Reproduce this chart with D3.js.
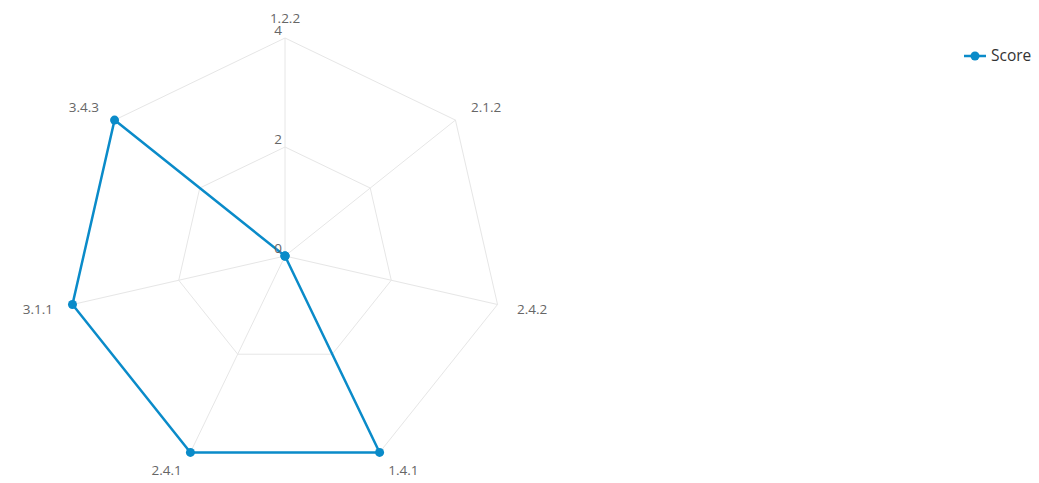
<!DOCTYPE html>
<html>
<head>
<meta charset="utf-8">
<script src="https://cdn.jsdelivr.net/npm/d3@7"></script>
<style>
  body { margin: 0; background: #fff; }
  text { font-family: 'Open Sans', sans-serif; }
</style>
</head>
<body>
<div id="chart-area"></div>
<script>
// radar chart - Score per criterion
var categories = ['1.2.2', '2.1.2', '2.4.2', '1.4.1', '2.4.1', '3.1.1', '3.4.3'];
var scores = [0, 0, 0, 4, 4, 4, 4];
var ticks = [0, 2, 4];
var seriesName = 'Score';

var width = 1039, height = 483;
var cx = 285, cy = 256, radius = 218;
var lineColor = '#0a8bc9';
var gridColor = '#e6e6e6';

var svg = d3.select('#chart-area')
  .append('svg')
    .attr('width', width)
    .attr('height', height);

var r = d3.scaleLinear()
  .domain([0, 4])
  .range([0, radius]);

var angle = d3.scalePoint()
  .domain(categories)
  .range([0, 2 * Math.PI * (categories.length - 1) / categories.length]);

function pos(cat, v) {
  var a = angle(cat);
  return [cx + r(v) * Math.sin(a), cy - r(v) * Math.cos(a)];
}

var g = svg.append('g');

// grid polygons
ticks.filter(function(t) { return t > 0; }).forEach(function(t) {
  g.append('polygon')
    .attr('points', categories.map(function(c) { return pos(c, t).join(','); }).join(' '))
    .attr('fill', 'none')
    .attr('stroke', gridColor)
    .attr('stroke-width', 1);
});

// spokes
categories.forEach(function(c) {
  var p = pos(c, 4);
  g.append('line')
    .attr('x1', cx).attr('y1', cy)
    .attr('x2', p[0]).attr('y2', p[1])
    .attr('stroke', gridColor)
    .attr('stroke-width', 1);
});

// axis labels
categories.forEach(function(c) {
  var a = angle(c);
  var p = pos(c, 4);
  var s = Math.sin(a);
  var anchor = Math.abs(s) < 0.1 ? 'middle' : (s > 0 ? 'start' : 'end');
  g.append('text')
    .attr('x', p[0] + 20 * s)
    .attr('y', p[1] - 20 * Math.cos(a))
    .attr('dy', '0.35em')
    .attr('text-anchor', anchor)
    .attr('font-size', '13.5px')
    .attr('fill', '#666')
    .text(c);
});

// series line
var line = d3.line()
  .x(function(d, i) { return pos(categories[i], d)[0]; })
  .y(function(d, i) { return pos(categories[i], d)[1]; })
  .curve(d3.curveLinearClosed);

g.append('path')
  .datum(scores)
  .attr('d', line)
  .attr('fill', 'none')
  .attr('stroke', lineColor)
  .attr('stroke-width', 2.5);

// tick labels
ticks.forEach(function(t) {
  g.append('text')
    .attr('x', cx - 3)
    .attr('y', cy - r(t) - 8)
    .attr('dy', '0.35em')
    .attr('text-anchor', 'end')
    .attr('font-size', '13.5px')
    .attr('fill', '#666')
    .text(t);
});

// points
g.selectAll('circle.pt')
  .data(scores)
  .enter().append('circle')
    .attr('class', 'pt')
    .attr('cx', function(d, i) { return pos(categories[i], d)[0]; })
    .attr('cy', function(d, i) { return pos(categories[i], d)[1]; })
    .attr('r', 4.5)
    .attr('fill', lineColor);

// legend
var legend = svg.append('g')
  .attr('transform', 'translate(964,56)');
legend.append('line')
  .attr('x1', 0).attr('x2', 22)
  .attr('y1', 0).attr('y2', 0)
  .attr('stroke', lineColor)
  .attr('stroke-width', 2.5);
legend.append('circle')
  .attr('cx', 11).attr('cy', 0)
  .attr('r', 4.5)
  .attr('fill', lineColor);
legend.append('text')
  .attr('x', 27)
  .attr('y', 0)
  .attr('dy', '0.35em')
  .attr('font-size', '15.5px')
  .attr('fill', '#333')
  .text(seriesName);
</script>
</body>
</html>
